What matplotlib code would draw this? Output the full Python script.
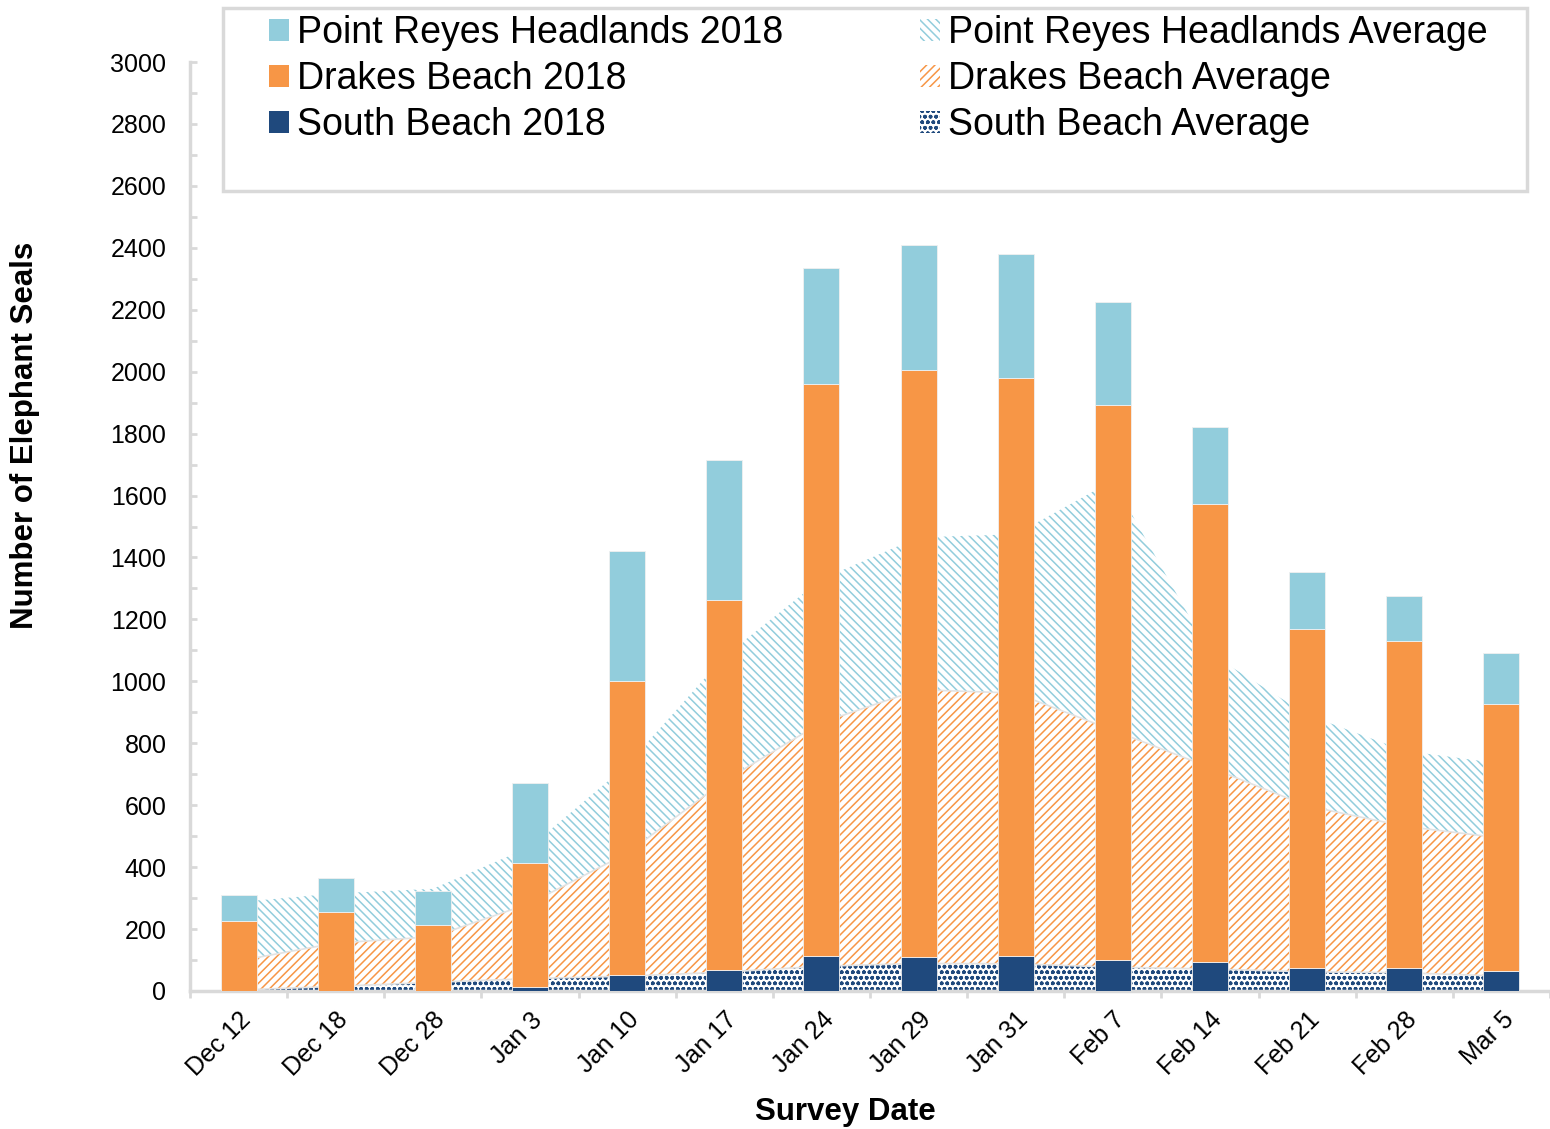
import numpy as np
import matplotlib
matplotlib.use('Agg')
import matplotlib.pyplot as plt
from matplotlib.patches import Patch, Rectangle

plt.rcParams['font.family'] = ['Liberation Sans', 'DejaVu Sans']
plt.rcParams['hatch.linewidth'] = 1.1

# survey dates
dates = ['Dec 12', 'Dec 18', 'Dec 28', 'Jan 3', 'Jan 10', 'Jan 17', 'Jan 24',
         'Jan 29', 'Jan 31', 'Feb 7', 'Feb 14', 'Feb 21', 'Feb 28', 'Mar 5']

# 2018 counts (stacked bars)
south_2018 = [0, 0, 0, 12, 52, 68, 113, 111, 113, 100, 93, 73, 75, 66]
drakes_2018 = [226, 256, 213, 400, 949, 1196, 1847, 1894, 1867, 1792, 1480, 1096, 1055, 861]
headlands_2018 = [84, 110, 110, 259, 420, 451, 375, 404, 400, 333, 248, 184, 146, 165]

# averages (stacked areas)
south_avg = [3, 15, 28, 40, 48, 61, 80, 89, 88, 77, 71, 62, 59, 48]
drakes_avg = [94, 140, 147, 243, 397, 617, 787, 884, 874, 765, 651, 536, 473, 446]
headlands_avg = [190, 160, 155, 182, 285, 402, 463, 492, 513, 806, 368, 294, 244, 240]

c_head = '#92CDDC'
c_drakes = '#F79646'
c_south = '#1F497D'
grid_gray = '#d9d9d9'

x = np.arange(len(dates))

fig = plt.figure(figsize=(15.5, 11.29), dpi=100)
ax = fig.add_axes([190 / 1550, 138 / 1129, 1 - 190 / 1550, 929 / 1129])

# average areas
s1 = np.array(south_avg)
s2 = s1 + np.array(drakes_avg)
s3 = s2 + np.array(headlands_avg)
ax.fill_between(x, 0, s1, facecolor='white', edgecolor=c_south, hatch='ooo', linewidth=0, zorder=1)
ax.fill_between(x, s1, s2, facecolor='white', edgecolor=c_drakes, hatch='////', linewidth=0, zorder=1)
ax.fill_between(x, s2, s3, facecolor='white', edgecolor=c_head, hatch='\\\\\\\\', linewidth=0, zorder=1)
ax.plot(x, s1, color='#e3e3e3', lw=1.2, zorder=2)
ax.plot(x, s2, color='#e3e3e3', lw=1.2, zorder=2)

# 2018 bars
w = 0.37
b1 = np.array(south_2018)
b2 = b1 + np.array(drakes_2018)
ax.bar(x, south_2018, w, color=c_south, edgecolor='#f0f0f0', linewidth=0.6, zorder=3)
ax.bar(x, drakes_2018, w, bottom=b1, color=c_drakes, edgecolor='#f0f0f0', linewidth=0.6, zorder=3)
ax.bar(x, headlands_2018, w, bottom=b2, color=c_head, edgecolor='#f0f0f0', linewidth=0.6, zorder=3)

ax.set_xlim(-0.5, 13.39)
ax.set_ylim(0, 3000)

for s in ['top', 'right']:
    ax.spines[s].set_visible(False)
for s in ['left', 'bottom']:
    ax.spines[s].set_color(grid_gray)
    ax.spines[s].set_linewidth(2.5)

ax.set_yticks(np.arange(0, 3001, 200))
ax.set_yticks(np.arange(0, 3001, 100), minor=True)
ax.tick_params(axis='y', which='both', direction='in', length=5, width=2, color=grid_gray,
               labelsize=18, pad=17)

ax.set_xticks(x)
ax.set_xticklabels(dates, rotation=45, ha='right', rotation_mode='anchor')
ax.set_xticks(np.arange(-0.5, 14, 1), minor=True)
ax.tick_params(axis='x', which='major', length=0, labelsize=18, pad=12)
ax.tick_params(axis='x', which='minor', direction='out', length=5, width=2, color=grid_gray)

fig.text(25 / 1550, 1 - 435 / 1129, 'Number of Elephant Seals', rotation=90,
         fontsize=22.5, fontweight='bold', ha='center', va='center')
fig.text(845 / 1550, 1 - 1112 / 1129, 'Survey Date', fontsize=22.5, fontweight='bold',
         ha='center', va='center')

# legend box
box = Rectangle((223 / 1550, 1 - 191 / 1129), 1304 / 1550, 183 / 1129,
                transform=fig.transFigure, facecolor='white', edgecolor=grid_gray,
                linewidth=2.5, zorder=5)
fig.patches.append(box)

h_bars = [Patch(facecolor=c_head, lw=0), Patch(facecolor=c_drakes, lw=0), Patch(facecolor=c_south, lw=0)]
h_avg = [Patch(facecolor='white', edgecolor=c_head, hatch='\\\\\\\\', lw=0),
         Patch(facecolor='white', edgecolor=c_drakes, hatch='////', lw=0),
         Patch(facecolor='white', edgecolor=c_south, hatch='ooo', lw=0)]
leg_kw = dict(loc='upper left', frameon=False, fontsize=27, borderpad=0, borderaxespad=0,
              handlelength=0.53, handleheight=0.53, handletextpad=0.22, labelspacing=0.27)
l1 = fig.legend(h_bars, ['Point Reyes Headlands 2018', 'Drakes Beach 2018', 'South Beach 2018'],
                bbox_to_anchor=(269 / 1550, 1 - 15 / 1129), **leg_kw)
l2 = fig.legend(h_avg, ['Point Reyes Headlands Average', 'Drakes Beach Average', 'South Beach Average'],
                bbox_to_anchor=(920 / 1550, 1 - 15 / 1129), **leg_kw)
l1.set_zorder(6)
l2.set_zorder(6)

plt.savefig('out.png', dpi=100)
